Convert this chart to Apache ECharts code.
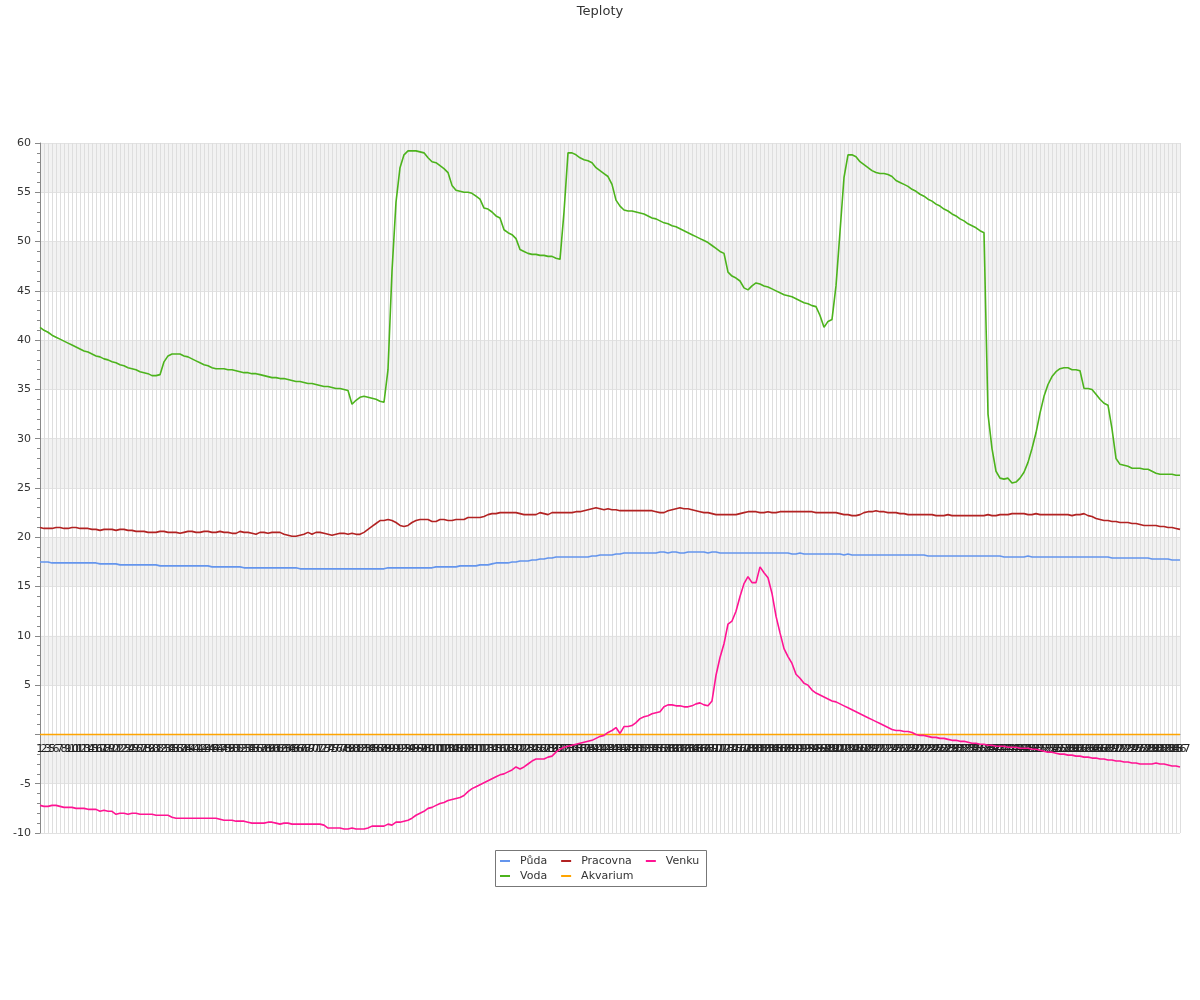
<!DOCTYPE html>
<html>
<head>
<meta charset="utf-8">
<script src="https://cdn.jsdelivr.net/npm/echarts@6/dist/echarts.min.js"></script>
<style>html,body{margin:0;padding:0;background:#fff;}#c{width:1200px;height:1000px;}</style>
</head>
<body>
<div id="c"></div>
<script>
// Category labels (1..287, label 4 absent)
var categories = [];
for (var n = 1; n <= 287; n++) { if (n !== 4) categories.push(String(n)); }

var puda = [
17.5,17.5,17.5,17.4,17.4,
17.4,17.4,17.4,17.4,17.4,17.4,17.4,17.4,17.4,17.4,
17.3,17.3,17.3,17.3,17.3,
17.2,17.2,17.2,17.2,17.2,17.2,17.2,17.2,17.2,17.2,
17.1,17.1,17.1,17.1,17.1,17.1,17.1,17.1,17.1,17.1,17.1,17.1,17.1,
17.0,17.0,17.0,17.0,17.0,17.0,17.0,17.0,
16.9,16.9,16.9,16.9,16.9,16.9,16.9,16.9,16.9,16.9,16.9,16.9,16.9,16.9,
16.8,16.8,16.8,16.8,16.8,16.8,16.8,16.8,16.8,16.8,16.8,16.8,16.8,16.8,16.8,16.8,16.8,16.8,16.8,16.8,16.8,16.8,
16.9,16.9,16.9,16.9,16.9,16.9,16.9,16.9,16.9,16.9,16.9,16.9,
17.0,17.0,17.0,17.0,17.0,17.0,
17.1,17.1,17.1,17.1,17.1,
17.2,17.2,17.2,
17.3,17.4,17.4,17.4,17.4,
17.5,17.5,17.6,17.6,17.6,
17.7,17.7,17.8,17.8,17.9,
17.9,18.0,18.0,18.0,18.0,18.0,18.0,18.0,18.0,18.0,
18.1,18.1,18.2,18.2,18.2,
18.2,18.3,18.3,18.4,18.4,
18.4,18.4,18.4,18.4,18.4,18.4,18.4,
18.5,18.5,18.4,18.5,18.5,18.4,18.4,18.5,18.5,18.5,18.5,18.5,18.4,18.5,18.5,
18.4,18.4,18.4,18.4,18.4,18.4,18.4,18.4,18.4,18.4,18.4,18.4,18.4,18.4,18.4,18.4,18.4,18.4,
18.3,18.3,18.4,18.3,18.3,18.3,18.3,18.3,18.3,18.3,18.3,18.3,18.3,18.2,
18.3,18.2,18.2,18.2,18.2,18.2,18.2,18.2,18.2,18.2,18.2,18.2,18.2,18.2,18.2,18.2,18.2,18.2,18.2,18.2,
18.1,18.1,18.1,18.1,18.1,18.1,18.1,18.1,18.1,18.1,18.1,18.1,18.1,18.1,18.1,18.1,18.1,18.1,18.1,
18.0,18.0,18.0,18.0,18.0,18.0,18.1,18.0,18.0,18.0,18.0,18.0,18.0,18.0,18.0,18.0,18.0,18.0,18.0,18.0,18.0,18.0,18.0,18.0,18.0,18.0,18.0,
17.9,17.9,17.9,17.9,17.9,17.9,17.9,17.9,17.9,17.9,
17.8,17.8,17.8,17.8,17.8,
17.7,17.7,17.7
];

var voda = [
41.3,41.0,40.8,40.5,40.3,40.1,39.9,39.7,39.5,39.3,
39.1,38.9,38.8,38.6,38.4,38.3,38.1,38.0,37.8,37.7,
37.5,37.4,37.2,37.1,37.0,36.8,36.7,36.6,36.4,36.4,
36.5,37.8,38.4,38.6,38.6,38.6,38.4,38.3,38.1,37.9,
37.7,37.5,37.4,37.2,37.1,37.1,37.1,37.0,37.0,36.9,
36.8,36.7,36.7,36.6,36.6,36.5,36.4,36.3,36.2,36.2,
36.1,36.1,36.0,35.9,35.8,35.8,35.7,35.6,35.6,35.5,
35.4,35.3,35.3,35.2,35.1,35.1,35.0,34.9,33.5,33.9,
34.2,34.3,34.2,34.1,34.0,33.8,33.7,37.0,47.0,54.0,
57.5,58.8,59.2,59.2,59.2,59.1,59.0,58.5,58.1,58.0,
57.7,57.4,57.0,55.7,55.2,55.1,55.0,55.0,54.9,54.6,
54.3,53.4,53.3,53.0,52.6,52.4,51.2,50.9,50.7,50.3,
49.2,49.0,48.8,48.7,48.7,48.6,48.6,48.5,48.5,48.3,
48.2,53.0,59.0,59.0,58.8,58.5,58.3,58.2,58.0,57.5,
57.2,56.9,56.6,55.8,54.2,53.6,53.2,53.1,53.1,53.0,
52.9,52.8,52.6,52.4,52.3,52.1,51.9,51.8,51.6,51.5,
51.3,51.1,50.9,50.7,50.5,50.3,50.1,49.9,49.6,49.3,
49.0,48.8,46.9,46.5,46.3,46.0,45.3,45.1,45.5,45.8,
45.7,45.5,45.4,45.2,45.0,44.8,44.6,44.5,44.4,44.2,
44.0,43.8,43.7,43.5,43.4,42.5,41.3,41.9,42.1,45.5,
51.0,56.5,58.8,58.8,58.6,58.1,57.8,57.5,57.2,57.0,
56.9,56.9,56.8,56.6,56.2,56.0,55.8,55.6,55.3,55.1,
54.8,54.6,54.3,54.1,53.8,53.6,53.3,53.1,52.8,52.6,
52.3,52.1,51.8,51.6,51.4,51.1,50.9,32.5,29.0,26.7,
26.0,25.9,26.0,25.5,25.6,26.0,26.6,27.6,29.0,30.6,
32.6,34.3,35.5,36.3,36.8,37.1,37.2,37.2,37.0,37.0,
36.9,35.1,35.1,35.0,34.5,34.0,33.6,33.4,31.0,28.0,
27.4,27.3,27.2,27.0,27.0,27.0,26.9,26.9,26.7,26.5,
26.4,26.4,26.4,26.4,26.3,26.3
];

var pracovna = [
21.0,20.9,20.9,20.9,21.0,21.0,20.9,20.9,21.0,21.0,
20.9,20.9,20.9,20.8,20.8,20.7,20.8,20.8,20.8,20.7,
20.8,20.8,20.7,20.7,20.6,20.6,20.6,20.5,20.5,20.5,
20.6,20.6,20.5,20.5,20.5,20.4,20.5,20.6,20.6,20.5,
20.5,20.6,20.6,20.5,20.5,20.6,20.5,20.5,20.4,20.4,
20.6,20.5,20.5,20.4,20.3,20.5,20.5,20.4,20.5,20.5,
20.5,20.3,20.2,20.1,20.1,20.2,20.3,20.5,20.3,20.5,
20.5,20.4,20.3,20.2,20.3,20.4,20.4,20.3,20.4,20.3,
20.3,20.5,20.8,21.1,21.4,21.7,21.7,21.8,21.7,21.5,
21.2,21.1,21.2,21.5,21.7,21.8,21.8,21.8,21.6,21.6,
21.8,21.8,21.7,21.7,21.8,21.8,21.8,22.0,22.0,22.0,
22.0,22.1,22.3,22.4,22.4,22.5,22.5,22.5,22.5,22.5,
22.4,22.3,22.3,22.3,22.3,22.5,22.4,22.3,22.5,22.5,
22.5,22.5,22.5,22.5,22.6,22.6,22.7,22.8,22.9,23.0,
22.9,22.8,22.9,22.8,22.8,22.7,22.7,22.7,22.7,22.7,
22.7,22.7,22.7,22.7,22.6,22.5,22.5,22.7,22.8,22.9,
23.0,22.9,22.9,22.8,22.7,22.6,22.5,22.5,22.4,22.3,
22.3,22.3,22.3,22.3,22.3,22.4,22.5,22.6,22.6,22.6,
22.5,22.5,22.6,22.5,22.5,22.6,22.6,22.6,22.6,22.6,
22.6,22.6,22.6,22.6,22.5,22.5,22.5,22.5,22.5,22.5,
22.4,22.3,22.3,22.2,22.2,22.3,22.5,22.6,22.6,22.7,
22.6,22.6,22.5,22.5,22.5,22.4,22.4,22.3,22.3,22.3,
22.3,22.3,22.3,22.3,22.2,22.2,22.2,22.3,22.2,22.2,
22.2,22.2,22.2,22.2,22.2,22.2,22.2,22.3,22.2,22.2,
22.3,22.3,22.3,22.4,22.4,22.4,22.4,22.3,22.3,22.4,
22.3,22.3,22.3,22.3,22.3,22.3,22.3,22.3,22.2,22.3,
22.3,22.4,22.2,22.1,21.9,21.8,21.7,21.7,21.6,21.6,
21.5,21.5,21.5,21.4,21.4,21.3,21.2,21.2,21.2,21.2,
21.1,21.1,21.0,21.0,20.9,20.8
];

var akvarium = [
0,0,0,0,0,0,0,0,0,0, 0,0,0,0,0,0,0,0,0,0, 0,0,0,0,0,0,0,0,0,0, 0,0,0,0,0,0,0,0,0,0,
0,0,0,0,0,0,0,0,0,0, 0,0,0,0,0,0,0,0,0,0, 0,0,0,0,0,0,0,0,0,0, 0,0,0,0,0,0,0,0,0,0,
0,0,0,0,0,0,0,0,0,0, 0,0,0,0,0,0,0,0,0,0, 0,0,0,0,0,0,0,0,0,0, 0,0,0,0,0,0,0,0,0,0,
0,0,0,0,0,0,0,0,0,0, 0,0,0,0,0,0,0,0,0,0, 0,0,0,0,0,0,0,0,0,0, 0,0,0,0,0,0,0,0,0,0,
0,0,0,0,0,0,0,0,0,0, 0,0,0,0,0,0,0,0,0,0, 0,0,0,0,0,0,0,0,0,0, 0,0,0,0,0,0,0,0,0,0,
0,0,0,0,0,0,0,0,0,0, 0,0,0,0,0,0,0,0,0,0, 0,0,0,0,0,0,0,0,0,0, 0,0,0,0,0,0,0,0,0,0,
0,0,0,0,0,0,0,0,0,0, 0,0,0,0,0,0,0,0,0,0, 0,0,0,0,0,0,0,0,0,0, 0,0,0,0,0,0,0,0,0,0,
0,0,0,0,0,0
];

var venku = [
-7.2,-7.3,-7.3,-7.2,-7.2,-7.3,-7.4,-7.4,-7.4,-7.5,
-7.5,-7.5,-7.6,-7.6,-7.6,-7.8,-7.7,-7.8,-7.8,-8.1,
-8.0,-8.0,-8.1,-8.0,-8.0,-8.1,-8.1,-8.1,-8.1,-8.2,
-8.2,-8.2,-8.2,-8.4,-8.5,-8.5,-8.5,-8.5,-8.5,-8.5,
-8.5,-8.5,-8.5,-8.5,-8.5,-8.6,-8.7,-8.7,-8.7,-8.8,
-8.8,-8.8,-8.9,-9.0,-9.0,-9.0,-9.0,-8.9,-8.9,-9.0,
-9.1,-9.0,-9.0,-9.1,-9.1,-9.1,-9.1,-9.1,-9.1,-9.1,
-9.1,-9.2,-9.5,-9.5,-9.5,-9.5,-9.6,-9.6,-9.5,-9.6,
-9.6,-9.6,-9.5,-9.3,-9.3,-9.3,-9.3,-9.1,-9.2,-8.9,
-8.9,-8.8,-8.7,-8.5,-8.2,-8.0,-7.8,-7.5,-7.4,-7.2,
-7.0,-6.9,-6.7,-6.6,-6.5,-6.4,-6.2,-5.8,-5.5,-5.3,
-5.1,-4.9,-4.7,-4.5,-4.3,-4.1,-4.0,-3.8,-3.6,-3.3,
-3.5,-3.3,-3.0,-2.7,-2.5,-2.5,-2.5,-2.3,-2.2,-1.8,
-1.5,-1.3,-1.2,-1.1,-1.0,-0.9,-0.8,-0.7,-0.6,-0.4,
-0.2,-0.1,0.2,0.4,0.7,0.1,0.8,0.8,0.9,1.2,
1.6,1.8,1.9,2.1,2.2,2.3,2.8,3.0,3.0,2.9,
2.9,2.8,2.8,2.9,3.1,3.2,3.0,2.9,3.4,6.0,
7.8,9.2,11.2,11.5,12.5,14.0,15.3,16.0,15.4,15.4,
17.0,16.4,15.9,14.3,12.0,10.3,8.7,7.9,7.2,6.1,
5.7,5.2,5.0,4.5,4.2,4.0,3.8,3.6,3.4,3.3,
3.1,2.9,2.7,2.5,2.3,2.1,1.9,1.7,1.5,1.3,
1.1,0.9,0.7,0.5,0.4,0.4,0.3,0.3,0.2,0.0,
-0.1,-0.1,-0.2,-0.3,-0.3,-0.4,-0.4,-0.5,-0.6,-0.6,
-0.7,-0.7,-0.8,-0.9,-0.9,-1.0,-1.0,-1.1,-1.1,-1.2,
-1.2,-1.2,-1.3,-1.3,-1.3,-1.4,-1.4,-1.4,-1.5,-1.5,
-1.6,-1.7,-1.8,-1.8,-1.9,-2.0,-2.0,-2.1,-2.1,-2.2,
-2.2,-2.3,-2.3,-2.4,-2.4,-2.5,-2.5,-2.6,-2.6,-2.7,
-2.7,-2.8,-2.8,-2.9,-2.9,-3.0,-3.0,-3.0,-3.0,-2.9,
-3.0,-3.0,-3.1,-3.2,-3.2,-3.3
];

var seriesNames = ['Půda', 'Voda', 'Pracovna', 'Akvarium', 'Venku'];
var seriesColors = ['#6495ED', '#4cb31c', '#B22222', '#FFA500', '#FF1493'];
var seriesData = [puda, voda, pracovna, akvarium, venku];

var yMin = -10, yMax = 60;
var gridTop = 143, gridBottom = 167, chartH = 1000;
var plotH = chartH - gridTop - gridBottom;
// x axis drawn at value 0 (moved up from the grid bottom)
var zeroOffset = -plotH * (0 - yMin) / (yMax - yMin);

var chart = echarts.init(document.getElementById('c'), null, {renderer: 'canvas'});
var FONT = 'DejaVu Sans';
var option = {
  animation: false,
  backgroundColor: '#ffffff',
  textStyle: { fontFamily: FONT },
  title: {
    text: 'Teploty',
    left: 'center',
    top: 0,
    textStyle: { fontFamily: FONT, fontSize: 13, fontWeight: 'normal', color: '#333' }
  },
  graphic: [{
    type: 'rect',
    left: 495, top: 850,
    shape: { width: 211, height: 36 },
    style: { fill: '#fff', stroke: '#777', lineWidth: 1 },
    z: 0
  }],
  legend: {
    data: ['Půda', 'Pracovna', 'Venku', '', 'Voda', 'Akvarium'],
    left: 500,
    top: 855,
    orient: 'horizontal',
    icon: 'rect',
    itemWidth: 10,
    itemHeight: 2,
    itemGap: 3,
    padding: 0,
    z: 5,
    textStyle: { fontFamily: FONT, fontSize: 11, color: '#333', lineHeight: 12, padding: [0, 11, 0, 5] }
  },
  grid: { left: 40, right: 20, top: gridTop, bottom: gridBottom, containLabel: false },
  xAxis: {
    type: 'category',
    data: categories,
    boundaryGap: false,
    position: 'bottom',
    offset: zeroOffset,
    axisLine: { show: true, onZero: false, lineStyle: { color: '#888' } },
    axisTick: { show: false },
    axisLabel: { interval: 0, fontSize: 11, color: '#222', fontFamily: FONT, margin: 9 },
    splitLine: { show: true, interval: 0, lineStyle: { color: '#dedede', width: 1 } }
  },
  yAxis: {
    type: 'value',
    min: yMin,
    max: yMax,
    interval: 5,
    axisLine: { show: true, lineStyle: { color: '#888' } },
    axisTick: { show: true, length: 5, lineStyle: { color: '#888' } },
    minorTick: { show: true, splitNumber: 5, length: 3, lineStyle: { color: '#888' } },
    axisLabel: {
      fontSize: 11, color: '#333', fontFamily: FONT, margin: 9,
      formatter: function (v) { return v === 0 ? '' : String(v); }
    },
    splitLine: { show: true, lineStyle: { color: '#e2e2e2' } },
    splitArea: { show: true, areaStyle: { color: ['rgba(255,255,255,0)', '#f2f2f2'] } }
  },
  series: seriesNames.map(function (name, k) {
    return {
      name: name,
      type: 'line',
      data: seriesData[k],
      showSymbol: false,
      symbol: 'none',
      color: seriesColors[k],
      lineStyle: { width: 1.6, color: seriesColors[k] },
      emphasis: { disabled: true }
    };
  })
};
chart.setOption(option);
</script>
</body>
</html>
